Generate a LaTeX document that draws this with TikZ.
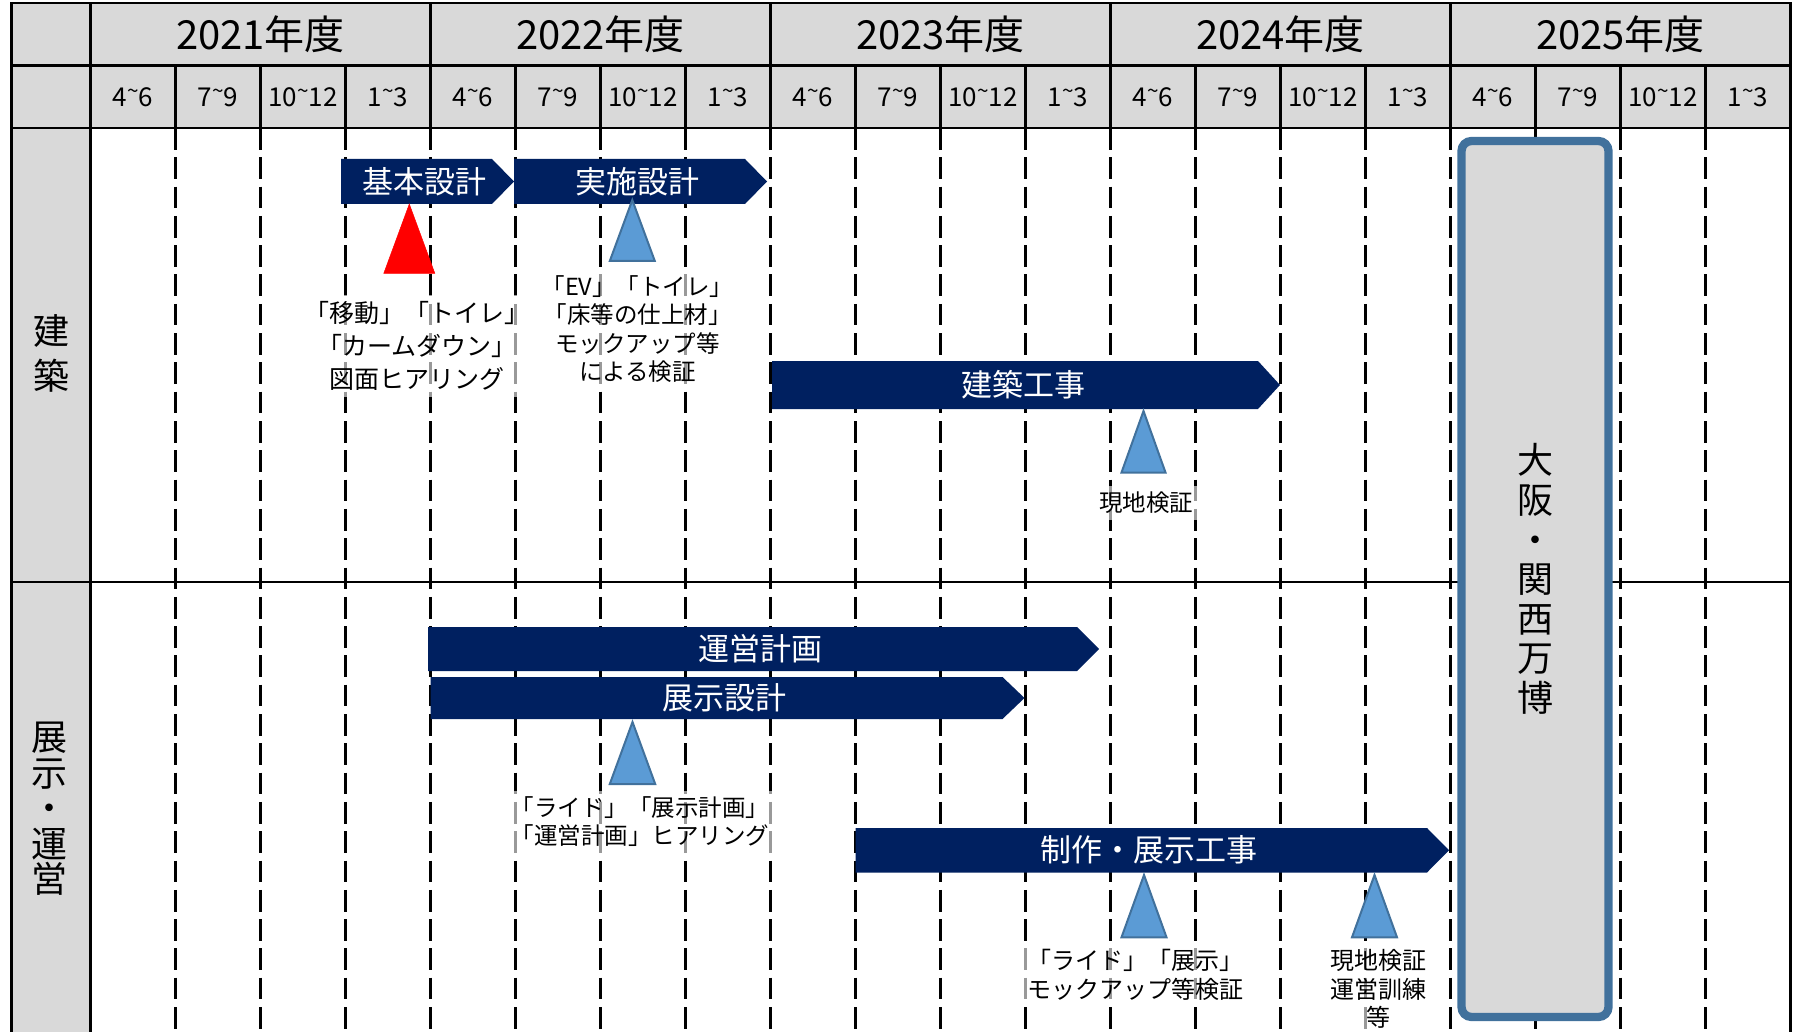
\documentclass[tikz,border=0pt]{standalone}
\usepackage{fontspec}
\setmainfont{Noto Sans CJK JP}
\definecolor{navy}{HTML}{002060}
\definecolor{cellgray}{HTML}{D9D9D9}
\definecolor{markblue}{HTML}{5B9BD5}
\definecolor{markedge}{HTML}{41719C}
\newcommand\fsz[2]{\fontsize{#1}{#2}\selectfont}
\newcommand\tld{\raisebox{0.3em}{\scalebox{0.8}{\textasciitilde}}}
% bar: name, left, tip, top, bottom, text
\newcommand\phasebar[6]{%
  \fill[navy] (#2,#4) -- ({#3-22},#4) -- (#3,{(#4+#5)/2}) -- ({#3-22},#5) -- (#2,#5) -- cycle;
  \node[bartext] (#1) at ({(#2+#3)/2-3},{(#4+#5)/2}) {#6};}
% triangle: apex x, apex y, base y, half base
\newcommand\marker[5][bluemark]{%
  \filldraw[#1] (#2,#3) -- ({#2+#5},#4) -- ({#2-#5},#4) -- cycle;}
\begin{document}
\begin{tikzpicture}[x=1pt,y=-1pt,
  grid/.style={line width=2.5pt},
  qline/.style={line width=2.5pt,dash pattern=on 21.7pt off 7.6pt},
  yearlbl/.style={font=\fsz{40}{42}},
  qlbl/.style={font=\fsz{26}{28}},
  sidelbl/.style={align=center,font=\fsz{36}{45}},
  bartext/.style={text=white,font=\fsz{31}{33}},
  note/.style={align=center,fill=white,fill opacity=0.6,text opacity=1,
    inner xsep=14pt,inner ysep=6pt},
  bluemark/.style={fill=markblue,draw=markedge,line width=2pt},
  redmark/.style={fill=red,draw=red,line width=0.5pt},
  ]
\useasboundingbox (0,0) rectangle (1799,1032);
\fill[cellgray] (11.7,3) rectangle (1790.5,128);
\fill[cellgray] (11.7,128) rectangle (90.5,1032);

% quarter lines
\foreach \i in {1,...,19}
  \draw[qline] ({90.5+85*\i},128) -- ({90.5+85*\i},1032);
\foreach \i in {1,...,19}
  \draw[grid] ({90.5+85*\i},65.5) -- ({90.5+85*\i},128);
\foreach \i in {1,...,4}
  \draw[grid] ({90.5+340*\i},3) -- ({90.5+340*\i},65.5);
\draw[grid] (11.7,1032) -- (11.7,3) -- (1790.5,3) -- (1790.5,1032);
\draw[grid] (90.5,3) -- (90.5,1032);
\foreach \yy in {65.5,128,582}
  \draw[grid] (11.7,\yy) -- (1790.5,\yy);

\foreach \yr [count=\i from 0] in {2021,...,2025}{
  \node[yearlbl] (fy\yr) at ({260.5+340*\i},34.5) {\yr 年度};
  \foreach \q/\lbl [count=\j from 0] in {a/4\tld 6,b/7\tld 9,c/10\tld 12,d/1\tld 3}
    \node[qlbl] (q\yr\q) at ({133+340*\i+85*\j},97) {\lbl};
}

\node[sidelbl] (arch) at (51,353) {建\\築};
\node[sidelbl,font=\fsz{36}{35.5}] (exop) at (49,809) {展\\示\\・\\運\\営};

% expo
\draw[line width=8.3pt,draw=markedge,fill=cellgray,rounded corners=10pt]
  (1461.5,141) rectangle (1608.5,1017);
\node[align=center,font=\fsz{36}{39.6}] (expo) at (1535,579) {大\\阪\\・\\関\\西\\万\\博};

% notes
\node[note,font=\fsz{25}{33},minimum width=300pt] (mvnote) at (417,346)
  {「移動」「トイレ」\\「カームダウン」\\図面ヒアリング};
\node[note,font=\fsz{23.5}{28.3}] (evnote) at (637.5,329)
  {「EV」「トイレ」\\「床等の仕上材」\\モックアップ等\\による検証};
\node[note,font=\fsz{23.5}{28}] (sitenote) at (1146,503) {現地検証};
\node[note,font=\fsz{23.5}{28}] (ridenote) at (640,822)
  {「ライド」「展示計画」\\「運営計画」ヒアリング};
\node[note,font=\fsz{24}{28.7}] (mocknote) at (1135,975)
  {「ライド」「展示」\\モックアップ等検証};
\node[note,font=\fsz{24}{28.7}] (trainnote) at (1378,989) {現地検証\\運営訓練\\等};

% bars
\phasebar{basic}{341}{514}{159}{204}{基本設計}
\phasebar{detail}{514}{767}{159}{204}{実施設計}
\phasebar{build}{772}{1280}{361}{409}{建築工事}
\phasebar{oper}{428}{1099}{627}{671}{運営計画}
\phasebar{exdes}{430.5}{1024.5}{677}{719}{展示設計}
\phasebar{exwork}{855.5}{1449}{828}{872.5}{制作・展示工事}

% triangles
\marker[redmark]{409.3}{204}{273.3}{25.5}
\marker{632.3}{200}{261}{22.5}
\marker{1143.5}{411}{472.5}{22}
\marker{632.5}{722}{784}{22.7}
\marker{1144}{875}{937.3}{22.5}
\marker{1374.5}{875}{937.3}{22.5}
\end{tikzpicture}
\end{document}
